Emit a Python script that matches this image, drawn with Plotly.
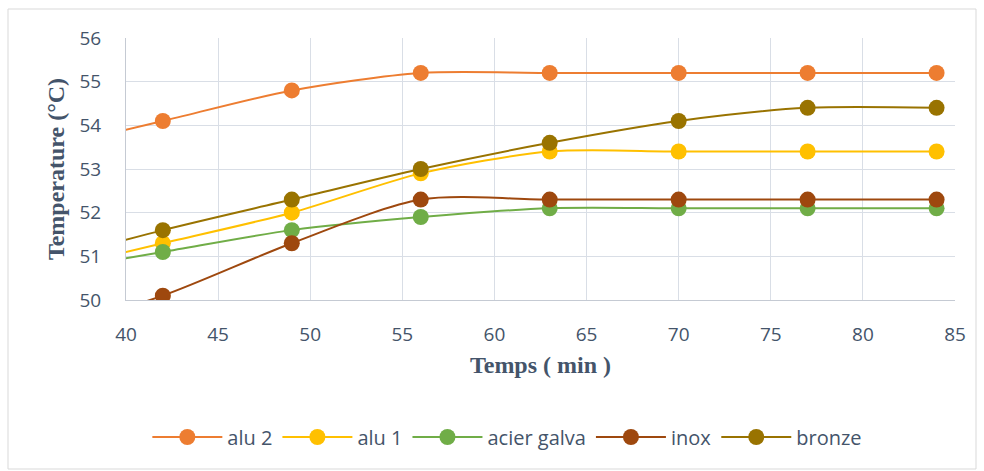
import plotly.graph_objects as go

# time (min); the first point (35) lies outside the visible range and is clipped
temps = [35, 42, 49, 56, 63, 70, 77, 84]

series_names = ["alu 2", "alu 1", "acier galva", "inox", "bronze"]
alu2 = [53.4, 54.1, 54.8, 55.2, 55.2, 55.2, 55.2, 55.2]
alu1 = [50.6, 51.3, 52.0, 52.9, 53.4, 53.4, 53.4, 53.4]
acier_galva = [50.6, 51.1, 51.6, 51.9, 52.1, 52.1, 52.1, 52.1]
inox = [49.2, 50.1, 51.3, 52.3, 52.3, 52.3, 52.3, 52.3]
bronze = [50.8, 51.6, 52.3, 53.0, 53.6, 54.1, 54.4, 54.4]

colors = ["#ED7D31", "#FFC000", "#70AD47", "#9E480E", "#997300"]
values = [alu2, alu1, acier_galva, inox, bronze]

x_ticks = [40, 45, 50, 55, 60, 65, 70, 75, 80, 85]
y_ticks = [50, 51, 52, 53, 54, 55, 56]

fig = go.Figure()
for name, vals, col in zip(series_names, values, colors):
    fig.add_trace(go.Scatter(
        x=temps, y=vals, name=name, mode="lines+markers",
        line=dict(color=col, width=2, shape="spline", smoothing=0.8),
        marker=dict(color=col, size=16),
    ))

W, H = 984, 471
ml, mr, mt, mb = 126, 29, 38, 171
pw, ph = W - ml - mr, H - mt - mb

def px_x(p):
    return (p - ml) / pw

def px_y(p):
    return (H - mb - p) / ph

fig.add_shape(type="rect", xref="paper", yref="paper",
              x0=px_x(8), x1=px_x(976), y0=px_y(9), y1=px_y(469),
              line=dict(color="#D9D9D9", width=1), layer="below")

txt = "#44546A"
grid = "#D9DEE6"
tick_font = dict(family="Open Sans, Liberation Sans, sans-serif", size=19, color=txt)
title_font = dict(family="Liberation Serif, serif", size=24, color=txt)

fig.update_layout(
    width=W, height=H,
    margin=dict(l=ml, r=mr, t=mt, b=mb),
    paper_bgcolor="white", plot_bgcolor="white",
    showlegend=True,
    legend=dict(orientation="h", x=0.46, xanchor="center", y=px_y(437), yanchor="middle",
                font=dict(family="Open Sans, Liberation Sans, sans-serif", size=20, color=txt),
                itemwidth=70, tracegroupgap=0),
    xaxis=dict(range=[40, 85], tickvals=x_ticks, showgrid=True, gridcolor=grid,
               showline=True, linecolor="#C5CAD3", linewidth=1, zeroline=False,
               tickfont=tick_font, ticks="", ticklabelstandoff=17,
               title=dict(text="<b>Temps ( min )</b>", font=title_font, standoff=10)),
    yaxis=dict(range=[50, 56], tickvals=y_ticks, showgrid=True, gridcolor=grid,
               showline=True, linecolor="#C5CAD3", linewidth=1, zeroline=False,
               tickfont=tick_font, ticks="", ticklabelstandoff=20,
               title=dict(text="<b>Temperature (°C)</b>", font=title_font, standoff=8)),
)

fig.write_html("out.html")
